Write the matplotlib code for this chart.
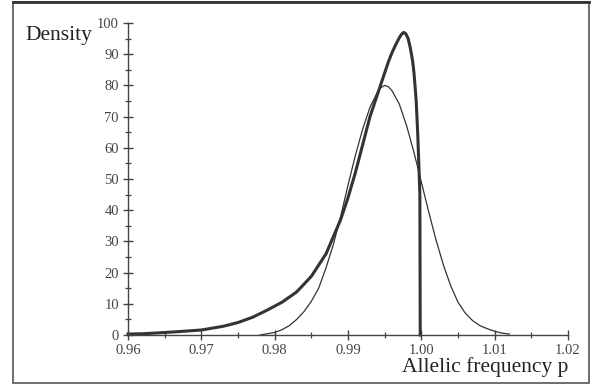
import matplotlib
matplotlib.use("Agg")
import matplotlib.pyplot as plt
from matplotlib.ticker import MultipleLocator, FixedFormatter, FixedLocator

plt.rcParams['font.family'] = ['Liberation Serif', 'DejaVu Serif']

# thin curve
thin_x = [0.978, 0.980, 0.981, 0.982, 0.983, 0.984, 0.985, 0.986, 0.987, 0.988,
          0.989, 0.990, 0.991, 0.992, 0.993, 0.994, 0.9945, 0.995, 0.9955, 0.996,
          0.997, 0.998, 0.999, 1.000, 1.001, 1.002, 1.003, 1.004, 1.005, 1.006,
          1.007, 1.008, 1.009, 1.010, 1.011, 1.012]
thin_y = [0.0, 0.8, 1.7, 3.0, 5.0, 7.5, 10.8, 15.0, 21.5, 29.0,
          38.0, 48.0, 57.5, 66.0, 73.0, 77.8, 79.3, 80.0, 79.6, 78.3,
          74.0, 67.0, 58.5, 49.0, 39.5, 30.5, 22.5, 15.8, 10.5, 7.0,
          4.6, 3.0, 2.0, 1.2, 0.6, 0.3]

# thick curve
thick_x = [0.960, 0.962, 0.965, 0.967, 0.970, 0.973, 0.975, 0.977, 0.979, 0.981,
           0.983, 0.985, 0.987, 0.989, 0.990, 0.991, 0.992, 0.993, 0.994, 0.995,
           0.9955, 0.996, 0.9965, 0.997, 0.9973, 0.9976, 0.9979, 0.9982, 0.9985, 0.9988,
           0.999, 0.9993, 0.9995, 0.9997, 0.9998, 0.99985]
thick_y = [0.3, 0.4, 0.8, 1.1, 1.6, 2.8, 4.0, 5.7, 8.0, 10.5,
           13.8, 18.8, 26.0, 37.0, 44.0, 52.0, 61.0, 70.0, 77.0, 84.0,
           87.5, 90.5, 93.0, 95.3, 96.4, 97.0, 96.5, 95.0, 92.0, 88.0,
           84.0, 75.0, 65.0, 52.0, 45.0, 0.0]

xticks = [0.96, 0.97, 0.98, 0.99, 1.00, 1.01, 1.02]
xtick_labels = ["0.96", "0.97", "0.98", "0.99", "1.00", "1.01", "1.02"]

fig = plt.figure(figsize=(5.93, 3.85), dpi=100)
ax = fig.add_axes([128 / 593, 50 / 385, 440 / 593, 312 / 385])

ink = '#333333'
ax.plot(thin_x, thin_y, color=ink, lw=0.9, clip_on=False, solid_joinstyle='round')
ax.plot(thick_x, thick_y, color=ink, lw=2.2, clip_on=False, solid_joinstyle='round')

ax.set_xlim(0.96, 1.02)
ax.set_ylim(0, 100)
ax.spines['top'].set_visible(False)
ax.spines['right'].set_visible(False)
for s in ('left', 'bottom'):
    ax.spines[s].set_color('#444444')
    ax.spines[s].set_linewidth(1.0)

ax.xaxis.set_major_locator(FixedLocator(xticks))
ax.xaxis.set_major_formatter(FixedFormatter(xtick_labels))
ax.xaxis.set_minor_locator(MultipleLocator(0.005))
ax.yaxis.set_major_locator(MultipleLocator(10))
ax.yaxis.set_minor_locator(MultipleLocator(5))

ax.tick_params(which='major', direction='inout', length=7, width=1.0,
               color='#444444', labelsize=10.5, labelcolor='#444444', pad=3)
ax.tick_params(which='minor', direction='inout', length=4, width=0.9, color='#444444')

fig.text(25 / 593, 1 - 40 / 385, "Density", fontsize=15.5, color='#222222',
         ha='left', va='baseline')
fig.text(568 / 593, 1 - 372 / 385, "Allelic frequency p", fontsize=15.5,
         color='#222222', ha='right', va='baseline')

# frame around the figure
frame = plt.Rectangle((13 / 593, 2 / 385), 576 / 593, 381 / 385, transform=fig.transFigure,
                      fill=False, edgecolor='#555555', lw=1.2)
fig.patches.append(frame)
fig.add_artist(plt.Line2D([13 / 593, 589 / 593], [1 - 1.5 / 385, 1 - 1.5 / 385],
                          transform=fig.transFigure, color='#333333', lw=2.0))

fig.savefig("out.png", dpi=100)
